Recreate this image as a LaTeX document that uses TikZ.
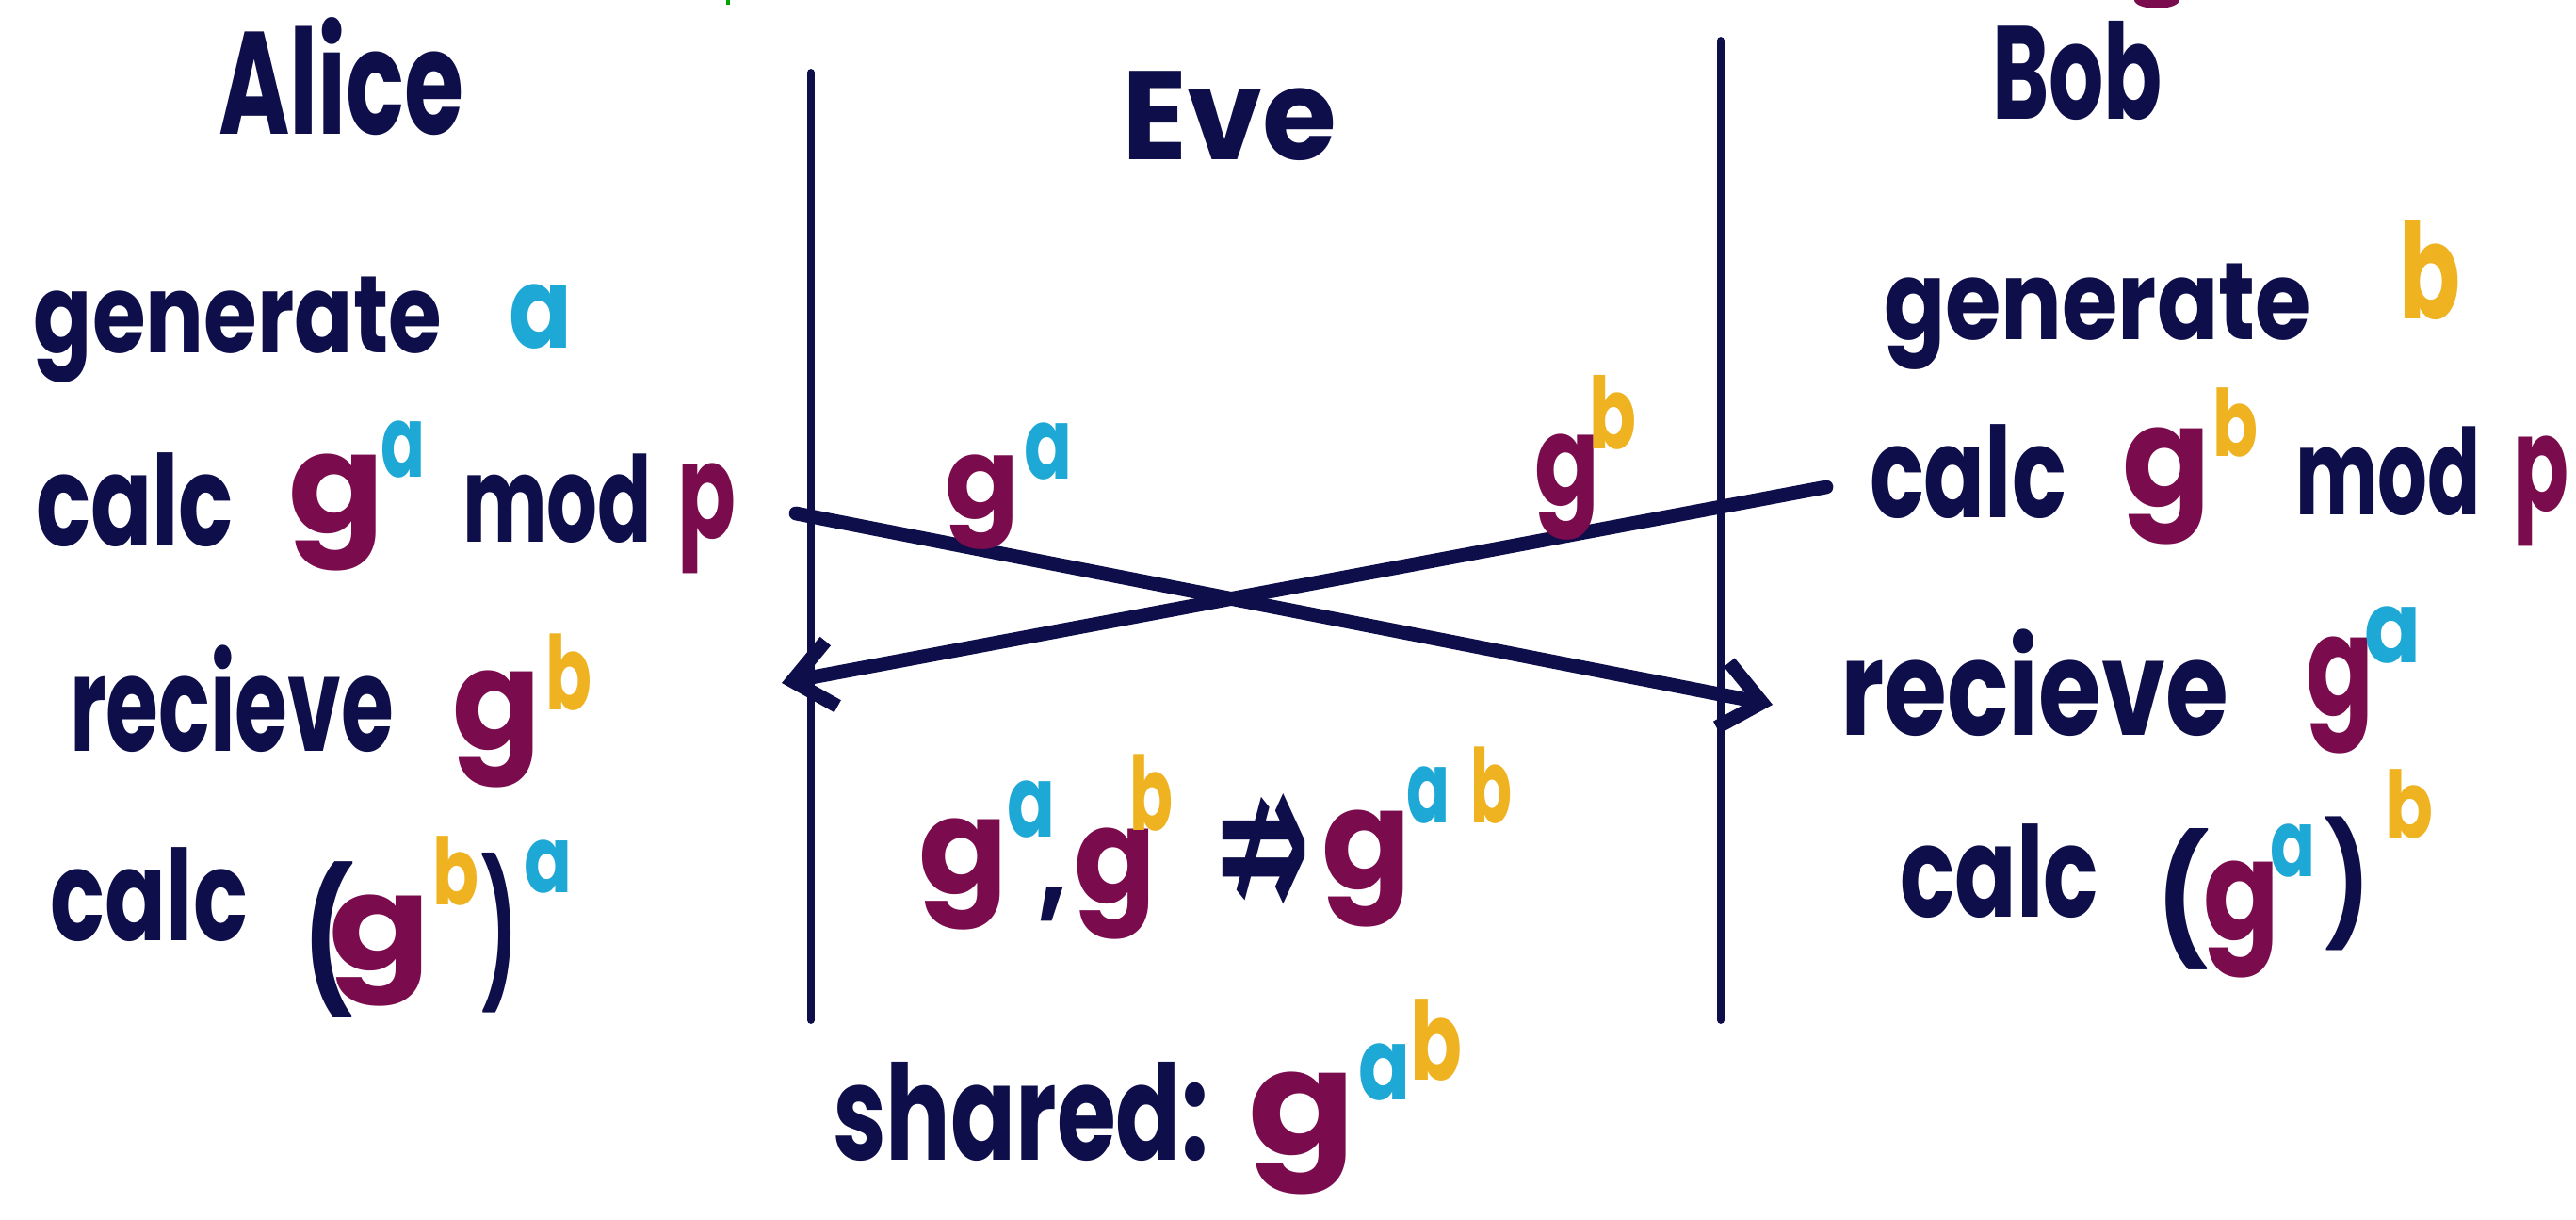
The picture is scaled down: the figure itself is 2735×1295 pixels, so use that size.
\documentclass[tikz,border=0pt]{standalone}
\usepackage{fontspec}
\usepackage{graphicx}
\usetikzlibrary{arrows.meta}
\newfontfamily\handfont{Poppins}
\newfontfamily\symfont{DejaVu Sans}
\definecolor{ink}{HTML}{0E0E4A}
\definecolor{gpurple}{HTML}{7A0C4E}
\definecolor{acyan}{HTML}{1EA8D6}
\definecolor{byellow}{HTML}{EFB321}
\newlength\pxu \setlength\pxu{0.01cm}
% squeeze a word to a given width (in px units), keeping its height
\newcommand\fitw[2]{\resizebox{#1\pxu}{\height}{#2}}
\tikzset{
  word/.style={anchor=base west, inner sep=0pt, outer sep=0pt, text=ink,
    font=\handfont\bfseries\fontsize{#1}{#1}\selectfont},
  word/.default=37,
  gsym/.style={word=#1, text=gpurple}, gsym/.default=40,
  asym/.style={word=#1, text=acyan}, asym/.default=30,
  bsym/.style={word=#1, text=byellow}, bsym/.default=31,
  lifeline/.style={draw=ink, line width=2.2pt, line cap=round},
  msg/.style={draw=ink, line width=4.2pt, line cap=round, line join=round,
    -{Straight Barb[length=12pt, width=20pt]}},
}
\begin{document}
\begin{tikzpicture}[x=0.01cm, y=-0.01cm]
\useasboundingbox (0,0) rectangle (2735,1295);
\fill[white] (0,0) rectangle (2735,1295);

% stray strokes along the top edge
\fill[gpurple] (2290,0) ellipse [x radius=24, y radius=9];
\draw[green!65!black, line width=1pt] (773,0) -- (773,5);

% parties
\node[word=44] (alice) at (232,143) {\fitw{261}{Alice}};
\node[word=38] (eve)   at (1191,170) {\fitw{228}{Eve}};
\node[word=40] (bob)   at (2115,127) {\fitw{181}{Bob}};

% lifelines
\coordinate (lTop) at (861,77);   \coordinate (lBot) at (861,1083);
\coordinate (rTop) at (1827,43);  \coordinate (rBot) at (1827,1083);
\draw[lifeline] (lTop) -- (lBot);
\draw[lifeline] (rTop) -- (rBot);

% Alice's steps
\node[word=33] (aGen) at (36,375) {\fitw{433}{generate}};
\node[asym=34] (aGenA) at (540,370) {\fitw{67}{a}};

\node[word=38] (aCalc) at (38,580) {\fitw{210}{calc}};
\node[gsym=42] (aCalcG) at (306,566) {\fitw{102}{g}};
\node[asym] (aCalcA) at (404,507) {\fitw{47}{a}};
\node[word=36] (aMod) at (491,576) {\fitw{201}{mod}};
\node[gsym] (aModP) at (719,572) {\fitw{62}{p}};

\node[word=40] (aRecv) at (74,798) {\fitw{344}{recieve}};
\node[gsym=42] (aRecvG) at (480,796) {\fitw{94}{g}};
\node[bsym] (aRecvB) at (579,754) {\fitw{49}{b}};

\node[word=38] (aFin) at (54,999) {\fitw{209}{calc}};
\node[word=42] (aFinL) at (321,1050) {\fitw{54}{(}};
\node[gsym] (aFinG) at (349,1030) {\fitw{108}{g}};
\node[bsym=28] (aFinB) at (459,961) {\fitw{49}{b}};
\node[word=43] (aFinR) at (511,1044) {\fitw{38}{)}};
\node[asym=28] (aFinA) at (556,948) {\fitw{51}{a}};

% Bob's steps
\node[word=33] (bGen) at (2000,361) {\fitw{454}{generate}};
\node[bsym=40] (bGenB) at (2547,339) {\fitw{65}{b}};

\node[word=38] (bCalc) at (1985,550) {\fitw{209}{calc}};
\node[gsym=42] (bCalcG) at (2253,538) {\fitw{94}{g}};
\node[bsym=28] (bCalcB) at (2349,485) {\fitw{48}{b}};
\node[word=36] (bMod) at (2437,547) {\fitw{197}{mod}};
\node[gsym] (bModP) at (2668,543) {\fitw{59}{p}};

\node[word=40] (bRecv) at (1954,781) {\fitw{412}{recieve}};
\node[gsym=42] (bRecvG) at (2448,760) {\fitw{72}{g}};
\node[asym] (bRecvA) at (2510,704) {\fitw{60}{a}};

\node[word=38] (bFin) at (2017,974) {\fitw{211}{calc}};
\node[word=38] (bFinL) at (2289,1002) {\fitw{56}{(}};
\node[gsym=42] (bFinG) at (2339,998) {\fitw{81}{g}};
\node[asym=28] (bFinA) at (2410,931) {\fitw{48}{a}};
\node[word=36] (bFinR) at (2468,983) {\fitw{48}{)}};
\node[bsym=28] (bFinB) at (2532,890) {\fitw{51}{b}};

% exchanged values
\coordinate (aSend) at (845,545);  \coordinate (bGets) at (1882,748);
\coordinate (bSend) at (1939,517); \coordinate (aGets) at (830,725);
\draw[msg] (aSend) -- (bGets);
\draw[msg] (bSend) -- (aGets);

\node[gsym=34] (m1G) at (1003,551) {\fitw{79}{g}};
\node[asym] (m1A) at (1087,509) {\fitw{51}{a}};
\node[gsym=38] (m2G) at (1629,537) {\fitw{69}{g}};
\node[bsym=30] (m2B) at (1687,477) {\fitw{50}{b}};

% what Eve sees
\node[gsym] (eG1) at (975,949) {\fitw{95}{g}};
\node[asym] (eA1) at (1069,889) {\fitw{51}{a}};
\node[word=36] (eComma) at (1102,962) {\fitw{31}{,}};
\node[gsym] (eG2) at (1140,959) {\fitw{87}{g}};
\node[bsym] (eB2) at (1199,882) {\fitw{46}{b}};
\node[anchor=center, inner sep=0pt, text=ink,
      font=\symfont\bfseries\fontsize{46}{46}\selectfont] (eNot) at (1341,912)
      {\resizebox*{100\pxu}{140\pxu}{⇏}};
\node[gsym=42] (eG3) at (1403,944) {\fitw{95}{g}};
\node[asym] (eA3) at (1493,874) {\fitw{46}{a}};
\node[bsym] (eB3) at (1561,874) {\fitw{44}{b}};

% shared secret
\node[word=40] (shared) at (884,1232) {\fitw{399}{shared:}};
\node[gsym=44] (sG) at (1325,1226) {\fitw{114}{g}};
\node[asym] (sA) at (1442,1168) {\fitw{55}{a}};
\node[bsym=33] (sB) at (1497,1147) {\fitw{55}{b}};
\end{tikzpicture}
\end{document}
